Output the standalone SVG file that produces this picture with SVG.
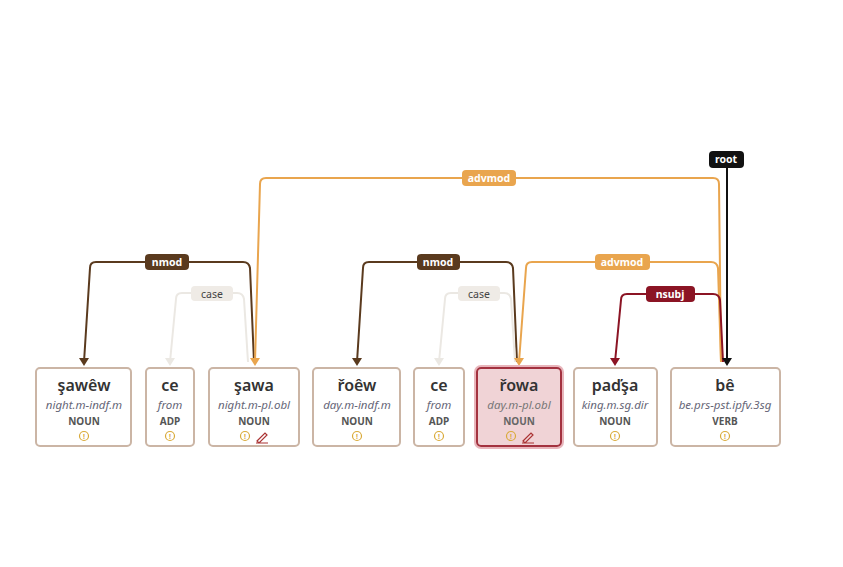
<svg xmlns="http://www.w3.org/2000/svg" width="843" height="567" viewBox="0 0 843 567">
<style>
text{font-family:"Noto Sans","Open Sans",sans-serif;text-anchor:middle}
.box{fill:#fff;stroke:#cbb5a5;stroke-width:2}
.w{font-size:16px;font-weight:600;fill:#333}
.g{font-size:11.5px;font-style:italic;fill:#667}
.p{font-size:10px;font-weight:700;fill:#555}
.i{fill:none;stroke:#d9aa3a;stroke-width:1.2}
.it{font-size:7px;font-weight:700;fill:#d9aa3a}
.e{fill:none;stroke-width:2}
.lt{font-size:10.5px;font-weight:700;fill:#fff}
.pen{fill:none;stroke:#a33;stroke-width:1.2}
</style>
<defs>
<marker id="aBr" markerWidth="8" markerHeight="8" refX="4" refY="7" orient="auto-start-reverse" markerUnits="userSpaceOnUse" viewBox="0 0 8 8"><path d="M0,0L8,0L4,8z" fill="#5a3a1e" transform="rotate(0)"/></marker>
</defs>
<rect width="843" height="567" fill="#fff"/>
<g id="connectors">
<path class="e" stroke="#5a3a1e" d="M254,362 L250,268 Q249,262 243,262 L96,262 Q90,262 90,268 L84,362"/>
<path d="M79,358 L89,358 L84,366z" fill="#5a3a1e"/>
<path class="e" stroke="#ebe8e3" d="M248,362 L244,299 Q243,293 237,293 L182,293 Q176,293 176,299 L170,362"/>
<path d="M165,358 L175,358 L170,366z" fill="#ebe8e3"/>
<path class="e" stroke="#e9a54e" d="M721,362 L719,184 Q719,178 713,178 L266,178 Q260,178 260,184 L255,362"/>
<path d="M250,358 L260,358 L255,366z" fill="#e9a54e"/>
<path class="e" stroke="#5a3a1e" d="M517,362 L513,268 Q512,262 506,262 L369,262 Q363,262 363,268 L357,362"/>
<path d="M352,358 L362,358 L357,366z" fill="#5a3a1e"/>
<path class="e" stroke="#ebe8e3" d="M515,362 L511,299 Q510,293 504,293 L451,293 Q445,293 445,299 L439,362"/>
<path d="M434,358 L444,358 L439,366z" fill="#ebe8e3"/>
<path class="e" stroke="#e9a54e" d="M721,362 L718,268 Q717,262 711,262 L532,262 Q526,262 526,268 L519,362"/>
<path d="M514,358 L524,358 L519,366z" fill="#e9a54e"/>
<path class="e" stroke="#8b1424" d="M723,362 L720,300 Q719,294 713,294 L627,294 Q621,294 621,300 L615,362"/>
<path d="M610,358 L620,358 L615,366z" fill="#8b1424"/>
<path class="e" stroke="#111" d="M727,168 L727,362"/>
<path d="M722,358 L732,358 L727,366z" fill="#111"/>
<rect x="145" y="254" width="44" height="16" rx="4" fill="#5a3a1e"/><text class="lt" x="167" y="266">nmod</text>
<rect x="191" y="286" width="42" height="15" rx="4" fill="#efebe6"/><text class="lt" x="212" y="298" style="fill:#444;font-weight:400">case</text>
<rect x="462" y="170" width="54" height="16" rx="4" fill="#e9a54e"/><text class="lt" x="489" y="182">advmod</text>
<rect x="417" y="254" width="43" height="16" rx="4" fill="#5a3a1e"/><text class="lt" x="438" y="266">nmod</text>
<rect x="458" y="286" width="42" height="15" rx="4" fill="#efebe6"/><text class="lt" x="479" y="298" style="fill:#444;font-weight:400">case</text>
<rect x="595" y="254" width="55" height="16" rx="4" fill="#e9a54e"/><text class="lt" x="622" y="266">advmod</text>
<rect x="646" y="286" width="49" height="16" rx="4" fill="#8b1424"/><text class="lt" x="670" y="298">nsubj</text>
<rect x="709" y="151" width="35" height="17" rx="4" fill="#111"/><text class="lt" x="726" y="163">root</text>
</g>
<g id="n1"><rect class="box" x="36" y="368" width="95" height="78" rx="4"/><text class="w" x="84" y="391">şawêw</text><text class="g" x="84" y="409">night.m-indf.m</text><text class="p" x="84" y="425">NOUN</text><circle class="i" cx="84" cy="436" r="4.5"/><text class="it" x="84" y="438.5">!</text></g>
<g id="n2"><rect class="box" x="146" y="368" width="48" height="78" rx="4"/><text class="w" x="170" y="391">ce</text><text class="g" x="170" y="409">from</text><text class="p" x="170" y="425">ADP</text><circle class="i" cx="170" cy="436" r="4.5"/><text class="it" x="170" y="438.5">!</text></g>
<g id="n3"><rect class="box" x="209" y="368" width="90" height="78" rx="4"/><text class="w" x="254" y="391">şawa</text><text class="g" x="254" y="409">night.m-pl.obl</text><text class="p" x="254" y="425">NOUN</text><circle class="i" cx="245" cy="436" r="4.5"/><text class="it" x="245" y="438.5">!</text><path class="pen" d="M257,441 L265,433 L267,435 L259,443 Z M256,443 L268,443"/></g>
<g id="n4"><rect class="box" x="313" y="368" width="87" height="78" rx="4"/><text class="w" x="357" y="391">řoêw</text><text class="g" x="357" y="409">day.m-indf.m</text><text class="p" x="357" y="425">NOUN</text><circle class="i" cx="357" cy="436" r="4.5"/><text class="it" x="357" y="438.5">!</text></g>
<g id="n5"><rect class="box" x="414" y="368" width="50" height="78" rx="4"/><text class="w" x="439" y="391">ce</text><text class="g" x="439" y="409">from</text><text class="p" x="439" y="425">ADP</text><circle class="i" cx="439" cy="436" r="4.5"/><text class="it" x="439" y="438.5">!</text></g>
<g id="n6"><rect x="475" y="366" width="88" height="82" rx="6" fill="none" stroke="#e8b5bb" stroke-width="2"/><rect x="477" y="368" width="84" height="78" rx="4" fill="#f0d3d6" stroke="#a3323f" stroke-width="2"/><text class="w" x="519" y="391">řowa</text><text class="g" x="519" y="409" style="fill:#777">day.m-pl.obl</text><text class="p" x="519" y="425" style="fill:#666">NOUN</text><circle class="i" cx="511" cy="436" r="4.5"/><text class="it" x="511" y="438.5">!</text><path class="pen" d="M523,441 L531,433 L533,435 L525,443 Z M522,443 L534,443"/></g>
<g id="n7"><rect class="box" x="574" y="368" width="83" height="78" rx="4"/><text class="w" x="615" y="391">paďşa</text><text class="g" x="615" y="409">king.m.sg.dir</text><text class="p" x="615" y="425">NOUN</text><circle class="i" cx="615" cy="436" r="4.5"/><text class="it" x="615" y="438.5">!</text></g>
<g id="n8"><rect class="box" x="671" y="368" width="109" height="78" rx="4"/><text class="w" x="725" y="391">bê</text><text class="g" x="725" y="409">be.prs-pst.ipfv.3sg</text><text class="p" x="725" y="425">VERB</text><circle class="i" cx="725" cy="436" r="4.5"/><text class="it" x="725" y="438.5">!</text></g>
</svg>
